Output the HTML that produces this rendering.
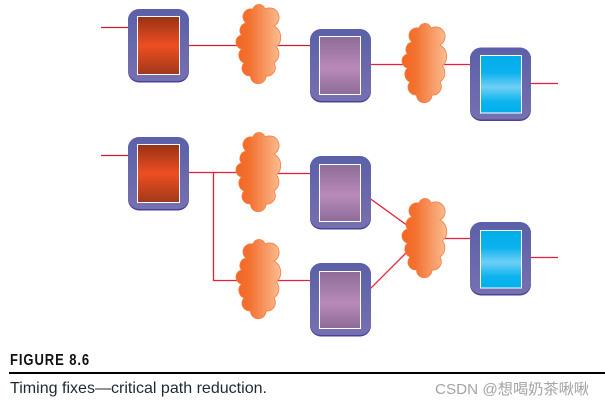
<!DOCTYPE html>
<html><head><meta charset="utf-8"><style>
html,body{margin:0;padding:0;background:#fff;width:605px;height:406px;overflow:hidden}
svg{display:block}
</style></head><body>
<svg width="605" height="406" viewBox="0 0 605 406" xmlns="http://www.w3.org/2000/svg">
<defs>
<linearGradient id="o" x1="0" y1="0" x2="0" y2="1"><stop offset="0" stop-color="#5a60a8"/><stop offset="1" stop-color="#7670b0"/></linearGradient>
<linearGradient id="r" x1="0" y1="0" x2="0" y2="1"><stop offset="0" stop-color="#983214"/><stop offset=".5" stop-color="#ee4e22"/><stop offset="1" stop-color="#a0391b"/></linearGradient>
<linearGradient id="p" x1="0" y1="0" x2="0" y2="1"><stop offset="0" stop-color="#8d6c96"/><stop offset=".55" stop-color="#b88aba"/><stop offset="1" stop-color="#8d6c96"/></linearGradient>
<linearGradient id="b" x1="0" y1="0" x2="0" y2="1"><stop offset="0" stop-color="#00aeea"/><stop offset=".3" stop-color="#0cb2ee"/><stop offset=".55" stop-color="#6fcff6"/><stop offset=".8" stop-color="#0cb4ee"/><stop offset="1" stop-color="#00b0ec"/></linearGradient>
<linearGradient id="c" x1="0" y1="0" x2="1" y2="0"><stop offset="0" stop-color="#f26522"/><stop offset=".3" stop-color="#f37130"/><stop offset="1" stop-color="#fbbd92"/></linearGradient>
<path id="cl" d="M16,6 A6.2,6.2 0 0 1 28,6 A9,9 0 0 1 37,23 A13,13 0 0 1 39.5,44 A11,11 0 0 1 37,60 A8.5,8.5 0 0 1 29,73 A7.5,7.5 0 0 1 13.5,73 A7.8,7.8 0 0 1 7,60 A8.5,8.5 0 0 1 4.5,46 A7.2,7.2 0 0 1 4.5,32 A7.5,7.5 0 0 1 9,20 A8,8 0 0 1 16,6 Z" fill="url(#c)" stroke="#f47c40" stroke-width=".8"/>
<g id="bx"><rect x="0" y="0.5" width="61" height="73" rx="11" fill="#48429a"/><rect x="0" y="0" width="61" height="72" rx="11" fill="url(#o)"/></g>
</defs>

<g fill="none" stroke="#c8202e" stroke-width="1.2">
<path d="M101,27.5H137M180,45.5H240M275,45.5H319"/>
<path d="M101,155.5H137"/>
</g>
<g fill="none" stroke="#ea1f35" stroke-width="1.3">
<path d="M361,64.5H406M441,64.5H480M522,83.5H558"/>
<path d="M180,172.5H240M213.5,172.5V280.5H240M275,173.5H319M275,280.5H319"/>
<path d="M361,192L408,226M361,298L408,251M441,238.5H480M522,257.5H558"/>
</g>

<use href="#bx" x="128" y="9"/><rect x="137.5" y="16.5" width="42" height="58" fill="url(#r)" stroke="#fff"/>
<use href="#bx" x="310" y="29"/><rect x="319.5" y="36.5" width="41" height="58" fill="url(#p)" stroke="#fff"/>
<use href="#bx" x="470" y="47.5"/><rect x="480.5" y="55.5" width="41" height="57.5" fill="url(#b)" stroke="#fff"/>
<use href="#bx" x="128" y="137"/><rect x="137.5" y="144.5" width="42" height="58" fill="url(#r)" stroke="#fff"/>
<use href="#bx" x="310" y="156"/><rect x="319.5" y="164.5" width="41" height="57" fill="url(#p)" stroke="#fff"/>
<use href="#bx" x="310" y="263"/><rect x="319.5" y="271.5" width="41" height="57" fill="url(#p)" stroke="#fff"/>
<use href="#bx" x="470" y="222"/><rect x="480.5" y="230.5" width="41" height="57.5" fill="url(#b)" stroke="#fff"/>

<use href="#cl" x="237" y="3"/>
<use href="#cl" x="403" y="22"/>
<use href="#cl" x="237" y="131"/>
<use href="#cl" x="237" y="238"/>
<use href="#cl" x="403" y="197"/>

<text transform="translate(10 365) scale(.84 1)" font-family="'Liberation Sans',sans-serif" font-weight="700" font-size="15.5" letter-spacing="1.1" fill="#111">FIGURE 8.6</text>
<rect x="9" y="372" width="596" height="2" fill="#000"/>
<text x="10" y="393" font-family="'Liberation Sans',sans-serif" font-size="16" fill="#1c2a36" textLength="257" lengthAdjust="spacingAndGlyphs">Timing fixes—critical path reduction.</text>
<text x="435" y="394" font-family="'Liberation Sans','Noto Sans CJK SC',sans-serif" font-size="15" fill="#a3a3a3" textLength="154" lengthAdjust="spacingAndGlyphs">CSDN @想喝奶茶啾啾</text>
</svg>
</body></html>
